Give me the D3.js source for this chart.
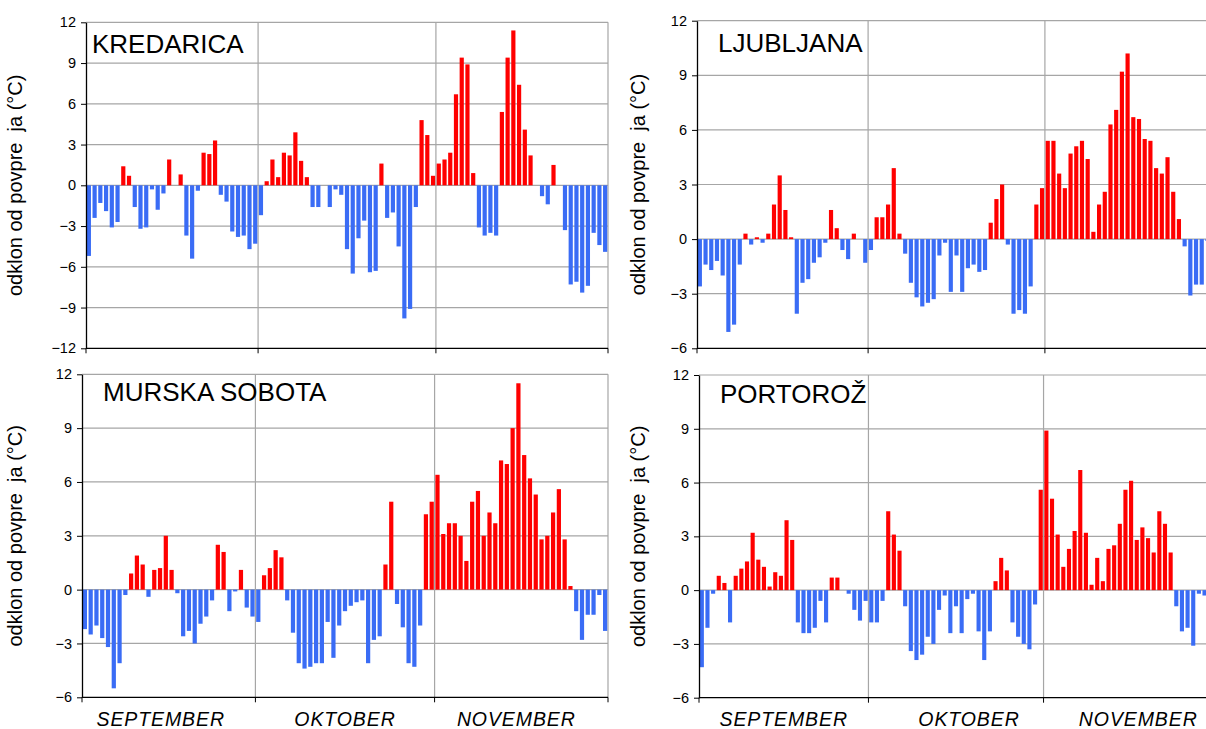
<!DOCTYPE html>
<html>
<head>
<meta charset="utf-8">
<script src="https://cdn.jsdelivr.net/npm/d3@7"></script>
<style>
  html, body { margin: 0; padding: 0; background: #fff; }
  svg { display: block; font-family: "Liberation Sans", Arial, sans-serif; }
</style>
</head>
<body>
<svg id="chart" width="1206" height="729"></svg>
<script>
// ---- data (daily temperature anomaly, °C) ----
const months = ["SEPTEMBER", "OKTOBER", "NOVEMBER"];
const monthDays = [30, 31, 30];

const kredaricaSep = [-5.2,-2.4,-1.3,-1.9,-3.1,-2.7,1.4,0.7,-1.6,-3.2,-3.1,-0.3,-1.8,-0.6,1.9,0,0.8,-3.7,-5.4,-0.4,2.4,2.3,3.3,-0.7,-1.2,-3.4,-3.8,-3.7,-4.7,-4.3];
const kredaricaOct = [-2.2,0.3,1.9,0.6,2.4,2.2,3.9,1.8,0.6,-1.6,-1.6,0,-1.6,-0.3,-0.7,-4.7,-6.5,-3.9,-2.6,-6.4,-6.3,1.6,-2.4,-2.0,-4.5,-9.8,-9.1,-1.6,4.8,3.7,0.7];
const kredaricaNov = [1.6,1.9,2.4,6.7,9.4,8.9,0.9,-3.1,-3.7,-3.5,-3.7,5.4,9.4,11.4,7.4,4.1,2.2,0,-0.8,-1.4,1.5,0,-3.3,-7.3,-7.1,-7.9,-7.4,-3.5,-4.4,-4.9];

const ljubljanaSep = [-2.6,-1.4,-1.7,-1.2,-2.0,-5.1,-4.7,-1.4,0.3,-0.3,0.1,-0.2,0.3,1.9,3.5,1.6,0.1,-4.1,-2.4,-2.2,-1.3,-1.0,-0.2,1.6,0.6,-0.6,-1.1,0.3,0,-1.3];
const ljubljanaOct = [-0.6,1.2,1.2,1.9,3.9,0.3,-0.8,-2.4,-3.2,-3.7,-3.5,-3.3,-0.9,-0.2,-2.9,-0.9,-2.9,-1.6,-1.4,-1.8,-1.7,0.9,2.2,3.0,-0.3,-4.1,-3.9,-4.1,-2.6,1.9,2.8];
const ljubljanaNov = [5.4,5.4,3.6,2.8,4.7,5.1,5.4,4.4,0.4,1.9,2.6,6.3,7.1,9.2,10.2,6.7,6.6,5.5,5.4,3.9,3.6,4.5,2.6,1.1,-0.4,-3.1,-2.5,-2.5,-0.1,-0.2];

const murskaSobotaSep = [-2.2,-2.5,-2.0,-2.7,-3.2,-5.5,-4.1,-0.3,0.9,1.9,1.4,-0.4,1.1,1.2,3.0,1.1,-0.2,-2.6,-2.3,-3.0,-1.9,-1.5,-0.6,2.5,2.1,-1.2,-0.1,1.1,-1.0,-1.5];
const murskaSobotaOct = [-1.8,0.8,1.2,2.2,1.8,-0.6,-2.4,-4.1,-4.4,-4.3,-4.1,-4.1,-1.8,-3.8,-2.0,-1.2,-0.9,-0.7,-0.6,-4.1,-2.8,-2.6,1.4,4.9,-0.8,-2.1,-4.1,-4.3,-2.0,4.2,4.9];
const murskaSobotaNov = [6.4,3.1,3.7,3.7,3.0,1.6,4.9,5.5,3.0,4.3,3.7,7.2,7.0,9.0,11.5,7.5,6.2,5.3,2.8,3.0,4.3,5.6,2.8,0.2,-1.2,-2.8,-1.4,-1.4,-0.3,-2.3];

const portorozSep = [-4.3,-2.1,-0.2,0.8,0.4,-1.8,0.8,1.2,1.6,3.2,1.7,1.3,0.2,1.0,0.8,3.9,2.8,-1.8,-2.4,-2.4,-2.1,-0.6,-1.8,0.7,0.7,0,-0.2,-1.1,-1.7,-0.6];
const portorozOct = [-1.8,-1.8,-0.6,4.4,3.1,2.2,-0.9,-3.4,-3.9,-3.6,-2.6,-3.0,-1.1,-0.3,-2.4,-0.9,-2.4,-0.5,-0.2,-2.3,-3.9,-2.3,0.5,1.8,1.1,-1.8,-2.6,-3.0,-3.3,-0.8,5.6];
const portorozNov = [8.9,5.1,3.1,1.3,2.3,3.3,6.7,3.2,0.3,1.8,0.5,2.3,2.5,3.7,5.6,6.1,2.8,3.5,2.9,2.1,4.4,3.7,2.1,-0.9,-2.3,-2.1,-3.1,-0.2,-0.3,-0.3];

const stations = ["KREDARICA", "LJUBLJANA", "MURSKA SOBOTA", "PORTOROŽ"];
const yTickStep = 3;
const yLabel = "odklon od povpre  ja (°C)";

// ---- layout ----
const panels = [
  { title: stations[0], values: [...kredaricaSep, ...kredaricaOct, ...kredaricaNov],
    x0: 86, x1: 608, yTop: 22.3, yBot: 348.3, dom: [-12, 12], ylabX: 22, tx: 92, ty: 53, months: null },
  { title: stations[1], values: [...ljubljanaSep, ...ljubljanaOct, ...ljubljanaNov],
    x0: 697, x1: 1216, yTop: 20.7, yBot: 348.3, dom: [-6, 12], ylabX: 645, tx: 718, ty: 52, months: null },
  { title: stations[2], values: [...murskaSobotaSep, ...murskaSobotaOct, ...murskaSobotaNov],
    x0: 82, x1: 608, yTop: 374.3, yBot: 697.3, dom: [-6, 12], ylabX: 22, tx: 103, ty: 401, months: [-8, 0, -5] },
  { title: stations[3], values: [...portorozSep, ...portorozOct, ...portorozNov],
    x0: 699, x1: 1213, yTop: 375, yBot: 697.7, dom: [-6, 12], ylabX: 645, tx: 720, ty: 403, months: [0, 13, 10] }
];

const svg = d3.select("#chart");
const gridColor = "#a6a6a6";
const red = "#ff0000", blue = "#3a6cf5";
const nDays = d3.sum(monthDays);
const bounds = [0, ...d3.cumsum(monthDays)];

panels.forEach(p => {
  const g = svg.append("g");
  const x = d3.scaleBand().domain(d3.range(nDays)).range([p.x0, p.x1]).paddingInner(0.27).paddingOuter(0.135);
  const y = d3.scaleLinear().domain(p.dom).range([p.yBot, p.yTop]);
  const step = x.step();
  const bx = i => p.x0 + step * i;
  const ticks = d3.range(p.dom[0], p.dom[1] + 0.001, yTickStep);

  // horizontal gridlines
  g.append("g").selectAll("line").data(ticks.filter(t => t !== p.dom[0])).join("line")
    .attr("x1", p.x0).attr("x2", p.x1)
    .attr("y1", d => y(d)).attr("y2", d => y(d))
    .attr("stroke", gridColor).attr("stroke-width", 1.2);

  // vertical month separators + right border
  g.append("g").selectAll("line").data(bounds.slice(1)).join("line")
    .attr("x1", d => bx(d)).attr("x2", d => bx(d))
    .attr("y1", p.yTop).attr("y2", p.yBot)
    .attr("stroke", gridColor).attr("stroke-width", 1.2);

  // bars
  g.append("g").selectAll("rect").data(p.values.map((v, i) => ({ v, i }))).join("rect")
    .attr("x", d => x(d.i))
    .attr("width", x.bandwidth())
    .attr("y", d => y(Math.max(0, d.v)))
    .attr("height", d => Math.abs(y(d.v) - y(0)))
    .attr("fill", d => d.v >= 0 ? red : blue);

  // left axis
  const ax = g.append("g").attr("transform", `translate(${p.x0},0)`)
    .call(d3.axisLeft(y).tickValues(ticks).tickSize(5).tickPadding(5).tickSizeOuter(0).tickFormat(d3.format("d")));
  ax.select(".domain").attr("stroke", "#000").attr("stroke-width", 1.3);
  ax.selectAll(".tick line").attr("stroke", "#000");
  ax.selectAll(".tick text").attr("font-size", 14.5).attr("font-family", "Liberation Sans, Arial, sans-serif").attr("fill", "#000");

  // bottom axis line with month ticks
  g.append("line").attr("x1", p.x0).attr("x2", p.x1).attr("y1", p.yBot).attr("y2", p.yBot)
    .attr("stroke", "#000").attr("stroke-width", 1.3);
  g.append("g").selectAll("line").data(bounds).join("line")
    .attr("x1", d => bx(d)).attr("x2", d => bx(d))
    .attr("y1", p.yBot).attr("y2", p.yBot + 5)
    .attr("stroke", "#000");

  // month labels
  if (p.months) {
    g.append("g").selectAll("text").data(months).join("text")
      .attr("x", (d, i) => (bx(bounds[i]) + bx(bounds[i + 1])) / 2 + p.months[i])
      .attr("y", 726)
      .attr("text-anchor", "middle")
      .attr("font-size", 19.5).attr("font-style", "italic")
      .attr("letter-spacing", 0.9)
      .text(d => d);
  }

  // station title
  g.append("text").attr("x", p.tx).attr("y", p.ty).attr("font-size", 26).text(p.title);

  // y label
  g.append("text")
    .attr("transform", `translate(${p.ylabX},${(p.yTop + p.yBot) / 2}) rotate(-90)`)
    .attr("text-anchor", "middle").attr("font-size", 20)
    .style("white-space", "pre")
    .text(yLabel);
});
</script>
</body>
</html>
